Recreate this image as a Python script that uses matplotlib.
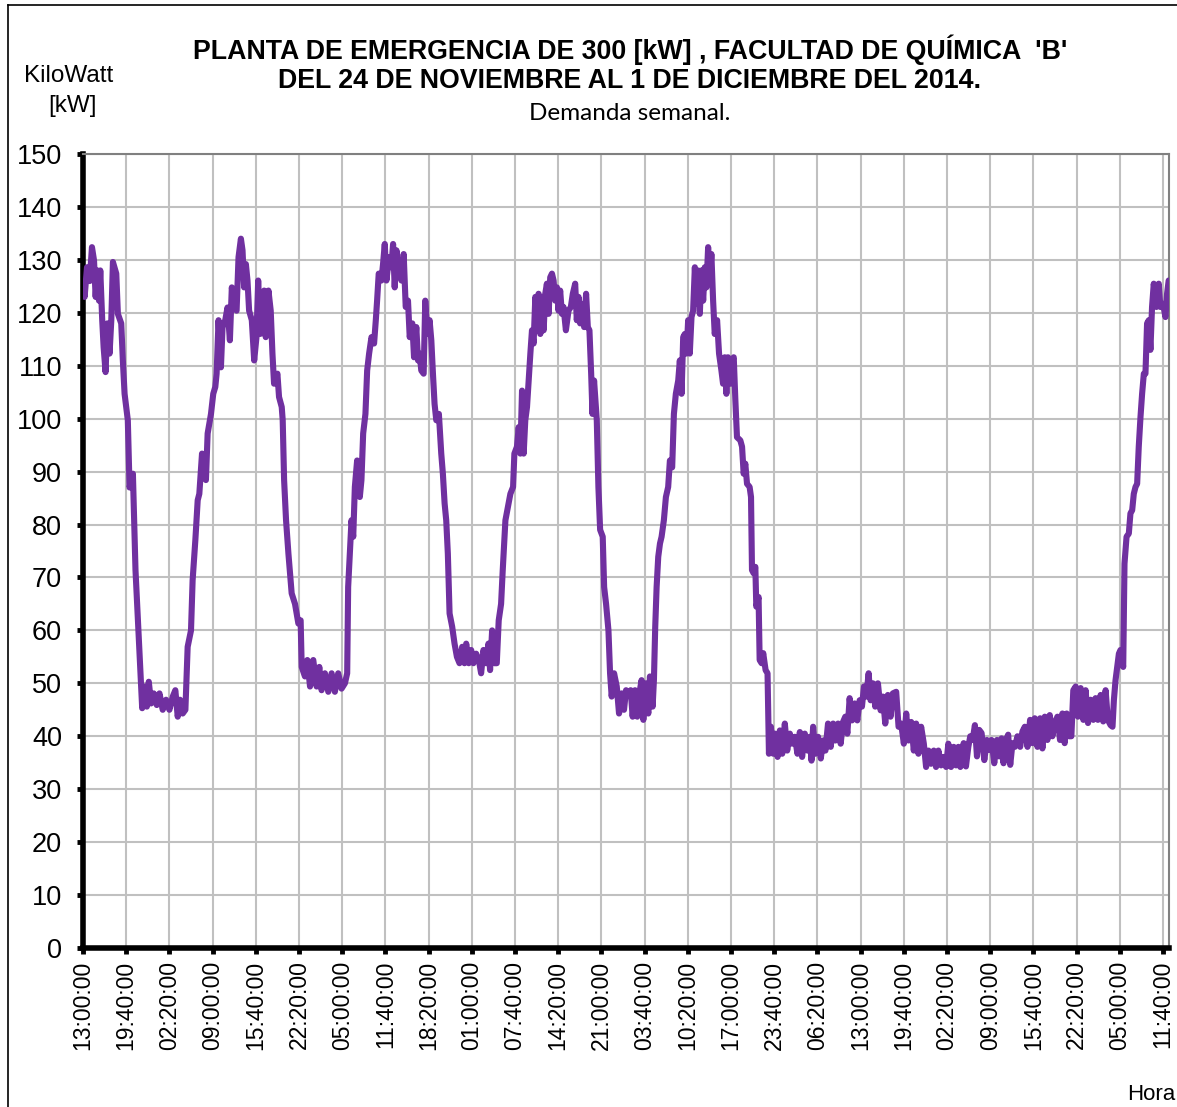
import matplotlib
matplotlib.use("Agg")
import matplotlib.pyplot as plt
from matplotlib.lines import Line2D

# Minutos transcurridos desde el lunes 24/11/2014 13:00 y demanda leida [kW]
minutos = [
    0, 15, 37, 62, 83, 102, 117, 132, 148, 160, 178, 191, 209, 225, 246, 262,
    277, 308, 323, 354, 369, 385, 415, 431, 462, 486, 508, 523, 548, 569, 591,
    609, 631, 655, 683, 708, 738, 769, 800, 831, 855, 877, 898, 923, 948, 969,
    1000, 1015, 1040, 1062, 1077, 1102, 1114, 1138, 1154, 1185, 1206, 1225,
    1237, 1255, 1277, 1292, 1317, 1338, 1360, 1378, 1400, 1422, 1440, 1462,
    1477, 1492, 1508, 1523, 1538, 1563, 1585, 1606, 1622, 1640, 1662, 1677,
    1692, 1717, 1738, 1754, 1769, 1800, 1815, 1840, 1849, 1862, 1880, 1902,
    1932, 1963, 1994, 2015, 2025, 2055, 2077, 2102, 2132, 2163, 2188, 2209,
    2240, 2271, 2302, 2332, 2363, 2394, 2425, 2446, 2455, 2471, 2486, 2502,
    2517, 2538, 2563, 2578, 2594, 2615, 2631, 2649, 2671, 2695, 2711, 2723,
    2738, 2763, 2778, 2794, 2809, 2834, 2855, 2871, 2886, 2902, 2917, 2932,
    2948, 2969, 2988, 3009, 3025, 3049, 3065, 3086, 3102, 3117, 3132, 3154,
    3169, 3188, 3209, 3225, 3240, 3255, 3271, 3295, 3317, 3332, 3348, 3363,
    3378, 3394, 3418, 3440, 3462, 3486, 3511, 3532, 3548, 3572, 3594, 3615,
    3640, 3665, 3686, 3708, 3732, 3754, 3769, 3788, 3809, 3831, 3849, 3871,
    3886, 3911, 3957, 3982, 3994, 4018, 4034, 4049, 4065, 4080, 4095, 4111,
    4126, 4142, 4157, 4172, 4188, 4203, 4218, 4234, 4249, 4265, 4280, 4295,
    4311, 4326, 4342, 4357, 4372, 4388, 4403, 4418, 4434, 4449, 4471, 4495,
    4517, 4535, 4557, 4572, 4588, 4603, 4618, 4640, 4658, 4674, 4689, 4705,
    4717, 4732, 4757, 4772, 4788, 4812, 4825, 4843, 4865, 4880, 4895, 4917,
    4942, 4963, 4988, 5009, 5028, 5049, 5071, 5089, 5111, 5132, 5151, 5172,
    5188, 5209, 5234, 5249, 5274, 5286, 5298, 5311, 5326, 5342, 5357, 5378,
    5397, 5418, 5434, 5455, 5471, 5489, 5511, 5526, 5542, 5557, 5572, 5588,
    5603, 5618, 5634, 5649, 5665, 5680, 5695, 5711, 5726, 5742, 5757, 5772,
    5788, 5803, 5818, 5834, 5849, 5871, 5889, 5911, 5926, 5942, 5957, 5972,
    5994, 6009, 6025, 6040, 6055, 6086, 6102, 6117, 6132, 6148, 6172, 6185,
    6194, 6209, 6225, 6234, 6255, 6265, 6283, 6298, 6320, 6338, 6351, 6369,
    6391, 6406, 6431, 6452, 6474, 6498, 6520, 6545, 6566, 6591, 6615, 6637,
    6658, 6683, 6708, 6729, 6745, 6760, 6782, 6806, 6831, 6852, 6874, 6898,
    6923, 6945, 6966, 6991, 7015, 7037, 7058, 7077, 7098, 7120, 7145, 7169,
    7191, 7212, 7231, 7252, 7274, 7292, 7314, 7335, 7360, 7385, 7406, 7428,
    7452, 7477, 7498, 7529, 7551, 7575, 7600, 7622, 7643, 7668, 7692, 7714,
    7735, 7760, 7785, 7806, 7828, 7852, 7877, 7898, 7920, 7945, 7969, 7991,
    8012, 8037, 8062, 8083, 8105, 8123, 8154, 8175, 8197, 8215, 8237, 8258,
    8277, 8298, 8320, 8345, 8369, 8391, 8412, 8437, 8462, 8483, 8505, 8523,
    8545, 8566, 8585, 8606, 8628, 8652, 8677, 8698, 8720, 8745, 8769, 8791,
    8812, 8837, 8862, 8883, 8905, 8929, 8951, 8975, 8997, 9022, 9046, 9068,
    9089, 9108, 9129, 9151, 9169, 9191, 9212, 9237, 9262, 9283, 9305, 9329,
    9354, 9375, 9397, 9422, 9446, 9468, 9489, 9514, 9532, 9545, 9560, 9575,
    9591, 9606, 9631, 9643, 9662, 9683, 9698, 9714, 9729, 9745, 9760, 9775,
    9791, 9806, 9822, 9837, 9852, 9868, 9883, 9898, 9914, 9938, 9960, 9975,
    10000, 10022, 10037, 10052,
]
kw = [
    125.0, 123.0, 128.6, 126.0, 132.4, 129.9, 123.0, 128.0, 122.3, 128.0,
    118.6, 113.5, 108.8, 118.0, 112.3, 118.6, 129.6, 127.4, 119.8, 118.0,
    111.0, 104.7, 99.7, 87.0, 89.6, 71.4, 62.0, 55.7, 45.3, 49.4, 45.6, 50.3,
    46.2, 48.1, 45.9, 48.1, 45.0, 46.9, 45.0, 47.5, 48.7, 43.7, 46.9, 44.3,
    45.0, 56.9, 60.0, 69.5, 77.0, 84.6, 85.8, 93.4, 89.6, 88.4, 97.2, 100.9,
    104.7, 106.0, 108.5, 118.6, 109.7, 117.3, 118.6, 121.0, 114.8, 124.8,
    121.0, 120.4, 130.5, 134.0, 131.8, 124.8, 129.2, 126.1, 120.4, 118.6,
    111.0, 115.4, 126.1, 116.0, 118.0, 124.2, 115.4, 124.2, 120.4, 112.3,
    106.6, 108.5, 104.1, 102.2, 99.7, 88.4, 80.8, 74.5, 67.0, 65.0, 61.3,
    61.9, 53.1, 51.3, 54.4, 49.4, 54.4, 49.4, 53.1, 48.7, 51.9, 48.4, 51.9,
    48.4, 51.9, 49.0, 50.0, 51.9, 68.2, 74.5, 80.8, 77.7, 87.1, 92.1, 85.2,
    88.4, 97.2, 100.9, 109.1, 112.3, 115.4, 114.2, 118.6, 122.3, 127.4, 126.1,
    129.2, 133.0, 126.1, 130.5, 128.6, 133.0, 124.8, 131.8, 128.0, 129.9,
    126.1, 131.1, 121.1, 122.3, 115.4, 118.0, 111.6, 117.3, 111.0, 112.3,
    109.1, 108.5, 122.3, 116.0, 118.6, 114.8, 108.5, 102.8, 99.7, 100.9, 93.4,
    89.6, 84.0, 80.8, 74.5, 63.2, 60.7, 57.5, 55.0, 53.8, 56.9, 53.8, 57.5,
    53.8, 56.3, 53.8, 55.6, 54.4, 51.9, 56.3, 53.8, 57.5, 52.5, 60.0, 53.8,
    53.8, 61.9, 65.0, 71.3, 80.8, 85.8, 87.1, 93.4, 94.7, 98.4, 93.4, 105.3,
    93.4, 99.7, 102.2, 107.2, 112.3, 116.7, 114.2, 123.0, 117.3, 123.6, 116.0,
    123.0, 116.7, 123.6, 125.5, 119.8, 126.7, 127.4, 126.1, 122.3, 124.8,
    120.4, 124.2, 119.8, 121.1, 116.7, 120.4, 121.1, 123.6, 125.5, 118.6,
    123.0, 118.0, 121.7, 117.3, 123.6, 117.3, 116.7, 108.5, 100.9, 107.2,
    99.7, 87.1, 79.0, 77.7, 68.2, 65.0, 60.0, 51.9, 47.5, 51.9, 49.4, 44.3,
    48.1, 45.0, 48.7, 48.1, 48.7, 43.7, 48.7, 43.7, 48.1, 50.6, 43.1, 50.0,
    44.3, 51.3, 45.6, 50.6, 60.6, 68.2, 73.9, 76.4, 77.7, 80.8, 85.2, 87.1,
    92.1, 90.8, 100.9, 104.7, 107.2, 111.0, 104.7, 115.4, 116.0, 112.3, 118.6,
    112.3, 119.2, 120.4, 128.6, 121.7, 128.0, 119.8, 128.0, 122.3, 128.6,
    124.8, 132.4, 126.1, 131.1, 122.3, 116.0, 118.6, 112.3, 109.1, 106.6,
    111.6, 104.7, 111.6, 106.6, 111.0, 111.6, 103.5, 96.5, 95.9, 94.7, 89.6,
    91.5, 87.7, 87.1, 85.2, 71.4, 70.8, 72.0, 64.5, 66.3, 54.4, 53.8, 55.7,
    52.5, 51.9, 36.7, 41.8, 36.7, 40.5, 36.1, 41.1, 36.7, 42.4, 37.3, 40.5,
    38.6, 39.9, 36.7, 40.8, 36.1, 40.5, 37.3, 39.9, 35.4, 41.8, 36.7, 39.9,
    35.8, 39.2, 37.3, 42.4, 38.0, 42.4, 39.2, 42.4, 38.6, 42.7, 43.7, 40.5,
    47.2, 43.0, 46.2, 43.0, 46.8, 45.6, 49.4, 47.5, 51.9, 46.8, 50.0, 45.6,
    50.0, 44.9, 47.5, 42.4, 47.8, 43.7, 48.1, 48.4, 41.8, 42.4, 38.6, 44.3,
    39.2, 42.7, 37.3, 42.4, 36.7, 41.8, 38.6, 34.2, 37.3, 34.8, 37.3, 34.2,
    37.3, 34.5, 36.1, 34.2, 38.6, 34.2, 38.0, 34.5, 38.0, 34.2, 38.7, 34.3,
    38.0, 40.0, 39.3, 42.1, 36.2, 41.2, 40.6, 35.5, 39.3, 37.4, 39.3, 34.9,
    39.3, 36.2, 39.6, 34.9, 39.3, 40.3, 34.6, 38.7, 38.0, 40.0, 38.0, 40.9,
    41.8, 38.0, 43.1, 38.7, 43.4, 38.0, 43.4, 37.7, 43.7, 39.3, 44.0, 40.0,
    42.5, 43.7, 39.3, 44.3, 38.7, 44.3, 40.0, 40.0, 48.7, 49.4, 43.7, 49.1,
    43.1, 48.7, 42.5, 46.9, 43.1, 47.2, 43.1, 47.8, 42.8, 48.7, 43.1, 42.1,
    41.8, 46.9, 50.6, 53.1, 55.6, 56.3, 53.1, 72.6, 77.7, 78.3, 82.1, 82.7,
    85.8, 87.1, 87.7, 94.7, 100.3, 104.7, 108.5, 108.5, 118.0, 118.6, 113.0,
    121.1, 125.5, 121.1, 125.5, 121.1, 121.7, 119.2, 123.6, 126.1,
]

# Etiquetas del eje horizontal (cada 6 h 40 min)
horas = [
    "13:00:00", "19:40:00", "02:20:00", "09:00:00", "15:40:00", "22:20:00",
    "05:00:00", "11:40:00", "18:20:00", "01:00:00", "07:40:00", "14:20:00",
    "21:00:00", "03:40:00", "10:20:00", "17:00:00", "23:40:00", "06:20:00",
    "13:00:00", "19:40:00", "02:20:00", "09:00:00", "15:40:00", "22:20:00",
    "05:00:00", "11:40:00",
]
paso_min = 400

plt.rcParams["font.family"] = ["Liberation Sans", "DejaVu Sans"]

fig = plt.figure(figsize=(11.77, 11.07), dpi=100)
ax = fig.add_axes([83 / 1177, 1 - 948 / 1107, (1169 - 83) / 1177, (948 - 154) / 1107])

ax.plot(minutos, kw, color="#7030A0", linewidth=4.4,
        solid_joinstyle="round", solid_capstyle="round", zorder=3)

ax.set_xlim(0, 10055)
ax.set_ylim(0, 150)
ax.set_yticks(range(0, 151, 10))
ax.set_xticks([i * paso_min for i in range(len(horas))])
ax.set_xticklabels(horas, rotation=90, fontsize=16.5)
ax.tick_params(axis="y", labelsize=19.5, pad=11)
ax.tick_params(axis="both", direction="out", length=4, width=3.5, color="black")
ax.tick_params(axis="x", pad=5)

ax.grid(True, color="#c0c0c0", linewidth=1.5)
ax.set_axisbelow(True)

ax.spines["left"].set_linewidth(4)
ax.spines["bottom"].set_linewidth(4)
ax.spines["left"].set_color("black")
ax.spines["bottom"].set_color("black")
ax.spines["top"].set_color("#808080")
ax.spines["right"].set_color("#808080")
ax.spines["top"].set_linewidth(1.5)
ax.spines["right"].set_linewidth(1.5)

# Titulos
fig.text(630 / 1177, 1 - 50 / 1107,
         "PLANTA DE EMERGENCIA DE 300 [kW] , FACULTAD DE QUÍMICA  'B'",
         ha="center", va="center", fontsize=19.3, fontweight="bold")
fig.text(630 / 1177, 1 - 81 / 1107,
         "DEL 24 DE NOVIEMBRE AL 1 DE DICIEMBRE DEL 2014.",
         ha="center", va="center", fontsize=19.3, fontweight="bold")
fig.text(630 / 1177, 1 - 114 / 1107, "Demanda semanal.",
         ha="center", va="center", fontsize=17.5, family=["Lato", "DejaVu Sans"])

fig.text(69 / 1177, 1 - 76 / 1107, "KiloWatt", ha="center", va="center", fontsize=17.5)
fig.text(72 / 1177, 1 - 106 / 1107, "[kW]", ha="center", va="center", fontsize=17.5)
fig.text(1151 / 1177, 1 - 1095 / 1107, "Hora", ha="center", va="center", fontsize=16)

# Marco exterior
fig.add_artist(Line2D([7.5 / 1177, 7.5 / 1177], [0, 1 - 5 / 1107],
                      transform=fig.transFigure, color="black", linewidth=1.2))
fig.add_artist(Line2D([7.5 / 1177, 1], [1 - 5 / 1107, 1 - 5 / 1107],
                      transform=fig.transFigure, color="black", linewidth=1.2))

fig.savefig("out.png", dpi=100, facecolor="white")
